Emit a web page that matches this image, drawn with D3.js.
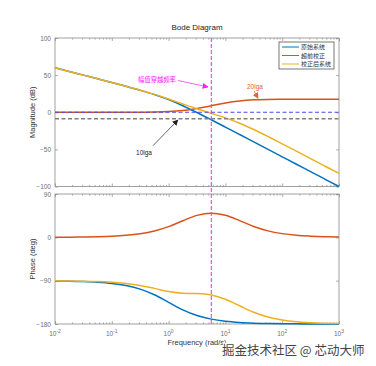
<!DOCTYPE html>
<html>
<head>
<meta charset="utf-8">
<script src="https://cdn.jsdelivr.net/npm/d3@7"></script>
<style>
  body { margin: 0; background: #fff; }
  svg text { font-family: "Liberation Sans", Arial, sans-serif; }
  .cjk { font-family: "Noto Sans CJK SC", sans-serif !important; }
</style>
</head>
<body>
<svg id="chart" width="376" height="366"></svg>
<script>
// ---- data (frequency in rad/s, quarter-decade grid)
const freqs = [0.01, 0.0178, 0.0316, 0.0562, 0.1, 0.178, 0.316, 0.562, 1, 1.78, 3.16,
               5.62, 10, 17.8, 31.6, 56.2, 100, 178, 316, 562, 1000];

const seriesNames = ['原始系统', '超前校正', '校正后系统'];

// magnitude (dB)
const magOrig = [60, 55, 50, 45, 40, 34.9, 29.6, 23.8, 17, 8.8, -0.4,
                 -10.1, -20, -30, -40, -50, -60, -70, -80, -90, -100];
const magLead = [0, 0, 0, 0, 0, 0, 0.1, 0.3, 0.9, 2.4, 5.1,
                 8.8, 12.5, 15.2, 16.7, 17.3, 17.5, 17.6, 17.6, 17.6, 17.6];
const magComp = [60, 55, 50, 45, 40, 34.9, 29.7, 24.1, 17.9, 11.2, 4.7,
                 -1.4, -7.6, -14.8, -23.3, -32.7, -42.5, -52.4, -62.4, -72.4, -82.4];

// phase (deg)
const phOrig = [-90.6, -91, -91.8, -93.2, -95.7, -100.1, -107.5, -119.3, -135, -150.6, -162.5,
                -169.9, -174.3, -176.8, -178.2, -179, -179.4, -179.7, -179.8, -179.9, -179.9];
const phLead = [0.2, 0.4, 0.8, 1.4, 2.4, 4.3, 7.6, 13.3, 22.3, 34.5, 45.6,
                50.2, 45.7, 34.7, 22.5, 13.4, 7.7, 4.3, 2.5, 1.4, 0.8];
const phComp = [-90.3, -90.6, -91, -91.8, -93.3, -95.8, -99.9, -106, -112.7, -116.2, -116.9,
                -119.8, -128.6, -142.1, -155.7, -165.6, -171.7, -175.4, -177.4, -178.5, -179.2];

// reference lines
const crossFreq = 5.65;     // 幅值穿越频率
const zeroDb = 0;
const tenLgA = -8.8;        // -10lga

// tick labels
const magTicks = [-100, -50, 0, 50, 100];
const phTicks = [-180, -90, 0, 90];
const decadeTicks = [0.01, 0.1, 1, 10, 100, 1000];
const decadeExp = ['-2', '-1', '0', '1', '2', '3'];

// annotations, in data units (rad/s, dB)
const notes = [
  { text: '幅值穿越频率', color: '#ff1aff', tx: 0.29, ty: 41, from: [1.46, 42.8], to: [4.94, 34], cjk: true },
  { text: '20lga', color: '#e8602a', tx: 24, ty: 31.3, from: [31.9, 28.6], to: [37.5, 18.8], cjk: false },
  { text: '10lga', color: '#222', tx: 0.267, ty: -57, from: [0.53, -45.1], to: [1.46, -10.4], cjk: false }
];

// ---- layout
const L = 55, R = 339,
  magTop = 38, magBot = 186.5,
  phTop = 194, phBot = 324,
  colors = ['#0072BD', '#D95319', '#EDB120'],
  axisColor = '#8a8a8a',
  labelColor = '#6e6e6e';

const svg = d3.select('#chart');

const x = d3.scaleLog().domain([0.01, 1000]).range([L, R]);
const yMag = d3.scaleLinear().domain([-100, 100]).range([magBot, magTop]);
const yPh = d3.scaleLinear().domain([-180, 90]).range([phBot, phTop]);

// arrow markers
const defs = svg.append('defs');
notes.forEach((n, i) => {
  defs.append('marker')
    .attr('id', 'arr' + i)
    .attr('viewBox', '0 0 10 10')
    .attr('refX', 9).attr('refY', 5)
    .attr('markerWidth', 6).attr('markerHeight', 6)
    .attr('markerUnits', 'userSpaceOnUse')
    .attr('orient', 'auto')
    .append('path').attr('d', 'M0,0 L10,5 L0,10 z').attr('fill', n.color);
});

// ---- axes frame
const minorTicks = [];
for (let k = -2; k < 3; k++) for (let m = 2; m <= 9; m++) minorTicks.push(m * Math.pow(10, k));

function drawFrame(y, ticks, top, bot) {
  const g = svg.append('g');
  g.append('rect')
    .attr('x', L).attr('y', top).attr('width', R - L).attr('height', bot - top)
    .attr('fill', '#fff').attr('stroke', axisColor).attr('stroke-width', 0.8);

  const xb = g.append('g').attr('transform', 'translate(0,' + bot + ')')
    .call(d3.axisBottom(x).tickValues(decadeTicks).tickSize(-3).tickFormat(''));
  const xbm = g.append('g').attr('transform', 'translate(0,' + bot + ')')
    .call(d3.axisBottom(x).tickValues(minorTicks).tickSize(-1.6).tickFormat(''));
  const xt = g.append('g').attr('transform', 'translate(0,' + top + ')')
    .call(d3.axisTop(x).tickValues(decadeTicks).tickSize(-3).tickFormat(''));
  const xtm = g.append('g').attr('transform', 'translate(0,' + top + ')')
    .call(d3.axisTop(x).tickValues(minorTicks).tickSize(-1.6).tickFormat(''));
  const yl = g.append('g').attr('transform', 'translate(' + L + ',0)')
    .call(d3.axisLeft(y).tickValues(ticks).tickSize(-3).tickPadding(4));
  const yr = g.append('g').attr('transform', 'translate(' + R + ',0)')
    .call(d3.axisRight(y).tickValues(ticks).tickSize(-3).tickFormat(''));

  [xb, xbm, xt, xtm, yl, yr].forEach(a => {
    a.select('.domain').remove();
    a.selectAll('line').attr('stroke', axisColor).attr('stroke-width', 0.7);
  });
  yl.selectAll('text').attr('font-size', 6.5).attr('fill', labelColor)
    .attr('font-family', '"Liberation Sans", Arial, sans-serif');
  return g;
}

drawFrame(yMag, magTicks, magTop, magBot);
drawFrame(yPh, phTicks, phTop, phBot);

// x tick labels with superscripts
const xl = svg.append('g');
decadeTicks.forEach((d, i) => {
  const t = xl.append('text')
    .attr('x', x(d)).attr('y', phBot + 12)
    .attr('text-anchor', 'middle')
    .attr('font-size', 6.5).attr('fill', labelColor);
  t.append('tspan').text('10');
  t.append('tspan').attr('dy', -3).attr('font-size', 5).text(decadeExp[i]);
});

// ---- curves
const line = (y) => d3.line()
  .x((d, i) => x(freqs[i]))
  .y(d => y(d))
  .curve(d3.curveMonotoneX);

const plots = svg.append('g');
[magOrig, magLead, magComp].forEach((s, i) => {
  plots.append('path').datum(s)
    .attr('d', line(yMag))
    .attr('fill', 'none').attr('stroke', colors[i]).attr('stroke-width', 1.5);
});
[phOrig, phLead, phComp].forEach((s, i) => {
  plots.append('path').datum(s)
    .attr('d', line(yPh))
    .attr('fill', 'none').attr('stroke', colors[i]).attr('stroke-width', 1.5);
});

// ---- reference lines
svg.append('line')
  .attr('x1', L).attr('x2', R).attr('y1', yMag(zeroDb)).attr('y2', yMag(zeroDb))
  .attr('stroke', '#4a4ae6').attr('stroke-width', 1).attr('stroke-dasharray', '4,2.5');
svg.append('line')
  .attr('x1', L).attr('x2', R).attr('y1', yMag(tenLgA)).attr('y2', yMag(tenLgA))
  .attr('stroke', '#7f7f7f').attr('stroke-width', 1.4).attr('stroke-dasharray', '4,2.5');
svg.append('line')
  .attr('x1', x(crossFreq)).attr('x2', x(crossFreq)).attr('y1', magTop).attr('y2', phBot)
  .attr('stroke', '#f23cf2').attr('stroke-width', 1.1).attr('stroke-dasharray', '4,2');

// ---- annotations
notes.forEach((n, i) => {
  svg.append('text')
    .attr('class', n.cjk ? 'cjk' : null)
    .attr('x', x(n.tx)).attr('y', yMag(n.ty))
    .attr('font-size', n.cjk ? 6.3 : 6.5)
    .attr('fill', n.color)
    .text(n.text);
  svg.append('line')
    .attr('x1', x(n.from[0])).attr('y1', yMag(n.from[1]))
    .attr('x2', x(n.to[0])).attr('y2', yMag(n.to[1]))
    .attr('stroke', n.color).attr('stroke-width', 0.7)
    .attr('marker-end', 'url(#arr' + i + ')');
});

// ---- legend
const lg = svg.append('g').attr('transform', 'translate(' + (R - 60) + ',' + (magTop + 4) + ')');
lg.append('rect').attr('width', 55).attr('height', 27)
  .attr('fill', '#fff').attr('stroke', '#555').attr('stroke-width', 0.8);
seriesNames.forEach((name, i) => {
  const yy = 5 + i * 8.5;
  lg.append('line').attr('x1', 3).attr('x2', 20).attr('y1', yy).attr('y2', yy)
    .attr('stroke', colors[i]).attr('stroke-width', 1);
  lg.append('text').attr('class', 'cjk')
    .attr('x', 22).attr('y', yy + 2.2)
    .attr('font-size', 6).attr('fill', '#333').text(name);
});

// ---- titles
svg.append('text')
  .attr('x', (L + R) / 2).attr('y', 30)
  .attr('text-anchor', 'middle').attr('font-size', 8).attr('fill', '#222')
  .text('Bode Diagram');
svg.append('text')
  .attr('transform', 'translate(35,' + (magTop + magBot) / 2 + ') rotate(-90)')
  .attr('text-anchor', 'middle').attr('font-size', 7.5).attr('fill', '#333')
  .text('Magnitude (dB)');
svg.append('text')
  .attr('transform', 'translate(35,' + (phTop + phBot) / 2 + ') rotate(-90)')
  .attr('text-anchor', 'middle').attr('font-size', 7.5).attr('fill', '#333')
  .text('Phase (deg)');
svg.append('text')
  .attr('x', (L + R) / 2).attr('y', 345)
  .attr('text-anchor', 'middle').attr('font-size', 7.5).attr('fill', '#333')
  .text('Frequency  (rad/s)');

// watermark
svg.append('text').attr('class', 'cjk')
  .attr('x', 222).attr('y', 355)
  .attr('font-size', 12.5).attr('fill', '#444')
  .attr('stroke', '#fff').attr('stroke-width', 2).attr('paint-order', 'stroke')
  .text('掘金技术社区 @ 芯动大师');
</script>
</body>
</html>
